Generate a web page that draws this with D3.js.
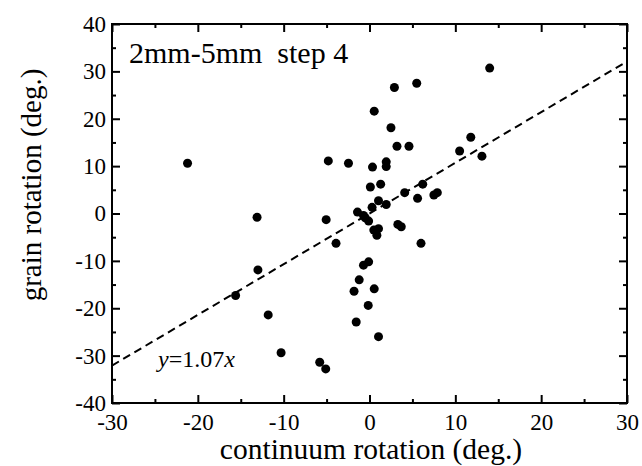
<!DOCTYPE html>
<html>
<head>
<meta charset="utf-8">
<script src="https://cdn.jsdelivr.net/npm/d3@7"></script>
<style>
body { margin: 0; background: #fff; }
svg { display: block; font-family: "Liberation Serif", "Times New Roman", serif; }
</style>
</head>
<body>
<svg id="chart" width="642" height="466"></svg>
<script>
// data (continuum rotation, grain rotation), degrees
var contRot = [-21.2, -4.8, -13.1, -5.05, -3.9, -13.0, -15.6, -11.8, -10.3, -5.8, -5.1,
	2.9, 5.5, 0.55, 2.5, 3.2, 4.6, -2.45, 0.35, 1.95, 1.95,
	14.0, 11.8, 10.5, 13.1,
	0.1, 1.3, 6.2, 4.1, 5.6, 7.5, 7.9, 1.05, 1.95, 0.3,
	-1.4, -0.7, -0.1, -0.5, 3.3, 3.7, 0.5, 1.05, 0.86, 6.0,
	-0.7, -0.1, -1.2, -1.8, 0.55, -0.15, -1.55, 1.05]
var grainRot = [10.6, 11.1, -0.8, -1.3, -6.3, -11.9, -17.3, -21.4, -29.4, -31.4, -32.8,
	26.6, 27.5, 21.6, 18.1, 14.2, 14.2, 10.6, 9.8, 10.9, 9.9,
	30.7, 16.1, 13.2, 12.1,
	5.6, 6.2, 6.2, 4.4, 3.2, 3.9, 4.4, 2.7, 1.9, 1.3,
	0.3, -0.4, -1.6, -0.9, -2.3, -2.8, -3.5, -3.2, -4.6, -6.3,
	-10.9, -10.2, -14.0, -16.4, -15.9, -19.4, -22.9, -26.0]
var slope = 1.07
var xTicks = [-30, -20, -10, 0, 10, 20, 30]
var yTicks = [-40, -30, -20, -10, 0, 10, 20, 30, 40]
var xMinor = [-25, -15, -5, 5, 15, 25]
var yMinor = [-35, -25, -15, -5, 5, 15, 25, 35]

var points = contRot.map((d, i) => ({ x: d, y: grainRot[i] }))

// plot frame
var padL = 112, padR = 627, padT = 24, padB = 403
var svg = d3.select("#chart")
var x = d3.scaleLinear().domain([-30, 30]).range([padL, padR])
var y = d3.scaleLinear().domain([-40, 40]).range([padB, padT])
var fmt = d => String(d)

// ticks on all four sides, pointing inward
var drawAxis = (axis, tr) => {
	var g = svg.append("g").attr("transform", tr).call(axis)
	g.select(".domain").remove()
	g.selectAll("line").attr("stroke", "#000").attr("stroke-width", 2)
	g.selectAll("text").attr("font-size", "23px").attr("fill", "#000").attr("font-family", "Liberation Serif")
	return g
}
drawAxis(d3.axisBottom(x).tickValues(xTicks).tickSize(-8).tickPadding(11).tickFormat(fmt), "translate(0," + padB + ")")
drawAxis(d3.axisBottom(x).tickValues(xMinor).tickSize(-4).tickFormat(""), "translate(0," + padB + ")")
drawAxis(d3.axisTop(x).tickValues(xTicks).tickSize(-8).tickFormat(""), "translate(0," + padT + ")")
drawAxis(d3.axisTop(x).tickValues(xMinor).tickSize(-4).tickFormat(""), "translate(0," + padT + ")")
drawAxis(d3.axisLeft(y).tickValues(yTicks).tickSize(-8).tickPadding(6).tickFormat(fmt), "translate(" + padL + ",0)")
drawAxis(d3.axisLeft(y).tickValues(yMinor).tickSize(-4).tickFormat(""), "translate(" + padL + ",0)")
drawAxis(d3.axisRight(y).tickValues(yTicks).tickSize(-8).tickFormat(""), "translate(" + padR + ",0)")
drawAxis(d3.axisRight(y).tickValues(yMinor).tickSize(-4).tickFormat(""), "translate(" + padR + ",0)")

svg.append("rect")
	.attr("x", padL).attr("y", padT)
	.attr("width", padR - padL).attr("height", padB - padT)
	.attr("fill", "none").attr("stroke", "#000").attr("stroke-width", 2)

// fit line
svg.append("line")
	.attr("x1", x(-30)).attr("y1", y(-30 * slope))
	.attr("x2", x(30)).attr("y2", y(30 * slope))
	.attr("stroke", "#000").attr("stroke-width", 2)
	.attr("stroke-dasharray", "8,5")

// points
svg.append("g").selectAll("circle").data(points).enter().append("circle")
	.attr("cx", d => x(d.x))
	.attr("cy", d => y(d.y))
	.attr("r", 4.5)
	.attr("fill", "#000")

// labels
svg.append("text")
	.attr("x", 129).attr("y", 63)
	.attr("font-size", "30px")
	.attr("xml:space", "preserve")
	.text("2mm-5mm  step 4")

var eq = svg.append("text")
	.attr("x", 158).attr("y", 367)
	.attr("font-size", "24px")
eq.append("tspan").attr("font-style", "italic").text("y")
eq.append("tspan").text("=1.07")
eq.append("tspan").attr("font-style", "italic").text("x")

svg.append("text")
	.attr("x", 371).attr("y", 459)
	.attr("text-anchor", "middle")
	.attr("font-size", "29.5px")
	.text("continuum rotation (deg.)")

svg.append("text")
	.attr("transform", "translate(41,185) rotate(-90)")
	.attr("text-anchor", "middle")
	.attr("font-size", "29px")
	.text("grain rotation (deg.)")
</script>
</body>
</html>
